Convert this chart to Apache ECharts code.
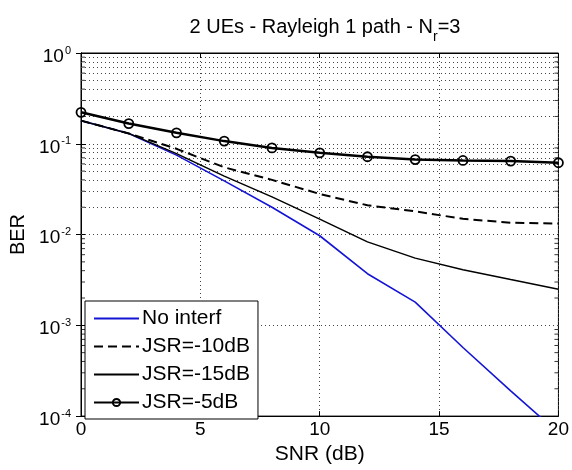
<!DOCTYPE html>
<html>
<head>
<meta charset="utf-8">
<script src="https://cdn.jsdelivr.net/npm/echarts@6/dist/echarts.min.js"></script>
<style>
  html, body { margin: 0; padding: 0; background: #fff; }
  #chart { width: 572px; height: 470px; }
</style>
</head>
<body>
<div id="chart"></div>
<script>
// BER vs SNR, 2 UEs, Rayleigh 1 path, Nr = 3
const snr = [0, 2, 4, 6, 8, 10, 12, 14, 16, 18, 20];
const noInterf = [0.18, 0.13, 0.075, 0.039, 0.020, 0.0097, 0.0037, 0.0018, 0.00057, 0.00019, 0.000065];
const jsrM10 = [0.18, 0.13, 0.088, 0.055, 0.040, 0.028, 0.021, 0.018, 0.0149, 0.0135, 0.0132];
const jsrM15 = [0.18, 0.13, 0.078, 0.044, 0.026, 0.0148, 0.0083, 0.0055, 0.0041, 0.0032, 0.0025];
const jsrM5 = [0.222, 0.167, 0.132, 0.107, 0.090, 0.0795, 0.072, 0.067, 0.0655, 0.0644, 0.0618];

const xTicks = [0, 5, 10, 15, 20];
const decades = [1e-4, 1e-3, 1e-2, 1e-1];
const minorFactors = [2, 3, 4, 5, 6, 7, 8, 9];

const legendNames = ['No interf', 'JSR=-10dB', 'JSR=-15dB', 'JSR=-5dB'];
// series drawn as plain lines get no marker in the legend
const plainLines = ['No interf', 'JSR=-10dB', 'JSR=-15dB'];

const FONT = '"Liberation Sans", Arial, Helvetica, sans-serif';
const X_MIN = xTicks[0], X_MAX = xTicks[xTicks.length - 1];

// minor decade values 2..9 x 10^k
const minorValues = [];
decades.forEach(d => minorFactors.forEach(f => minorValues.push(+(d * f).toPrecision(3))));

const pairs = arr => snr.map((x, i) => [x, arr[i]]);
const dotted = { type: [1, 3], color: '#444', width: 1 };

const chart = echarts.init(document.getElementById('chart'), null, { renderer: 'canvas' });

const option = {
  animation: false,
  backgroundColor: '#fff',
  title: {
    text: '{a|2 UEs - Rayleigh 1 path - N}{s|r}{a|=3}',
    left: 320,
    textAlign: 'center',
    top: 12,
    textStyle: {
      fontWeight: 'normal',
      rich: {
        a: { fontFamily: FONT, fontSize: 20, fontWeight: 'normal', color: '#000', lineHeight: 22, verticalAlign: 'top' },
        s: { fontFamily: FONT, fontSize: 14, fontWeight: 'normal', color: '#000', lineHeight: 14, padding: [13, 0, 0, 0], verticalAlign: 'top' }
      }
    }
  },
  grid: {
    left: 81, right: 11, top: 53, bottom: 52,
    show: true, borderColor: '#000', borderWidth: 1, backgroundColor: '#fff'
  },
  legend: {
    data: legendNames.map(n => plainLines.includes(n)
      ? { name: n, itemStyle: { opacity: 0 } }
      : { name: n }),
    orient: 'vertical',
    left: 85,
    top: 301,
    padding: [7, 8, 6, 8],
    itemGap: 7,
    itemWidth: 45,
    itemHeight: 9,
    backgroundColor: '#fff',
    borderColor: '#000',
    borderWidth: 1,
    borderRadius: 0,
    textStyle: { fontFamily: FONT, fontSize: 21, color: '#000', lineHeight: 20, padding: [0, 0, 0, -2] }
  },
  xAxis: [{
    type: 'value',
    min: X_MIN, max: X_MAX, interval: 5,
    name: 'SNR (dB)',
    nameLocation: 'middle',
    nameGap: 22,
    nameTextStyle: { fontFamily: FONT, fontSize: 21, color: '#000' },
    axisLine: { show: true, lineStyle: { color: '#000', width: 1 } },
    axisTick: { show: true, inside: true, length: 5, lineStyle: { color: '#000' } },
    axisLabel: { fontFamily: FONT, fontSize: 19, color: '#000', margin: 4 },
    splitLine: { show: true, lineStyle: dotted }
  }, {
    type: 'value',
    position: 'top',
    min: X_MIN, max: X_MAX, interval: 5,
    axisLine: { show: true, lineStyle: { color: '#000', width: 1 } },
    axisTick: { show: true, inside: true, length: 5, lineStyle: { color: '#000' } },
    axisLabel: { show: false },
    splitLine: { show: false }
  }],
  yAxis: [{
    type: 'log',
    logBase: 10,
    min: 1e-4, max: 1,
    name: 'BER',
    nameLocation: 'middle',
    nameGap: 42,
    nameTextStyle: { fontFamily: FONT, fontSize: 20, color: '#000' },
    axisLine: { show: true, lineStyle: { color: '#000', width: 1 } },
    axisTick: { show: true, inside: true, length: 5, lineStyle: { color: '#000' } },
    axisLabel: {
      margin: 10,
      formatter: v => '{b|10}{s|' + Math.round(Math.log10(v)) + '}',
      rich: {
        b: { fontFamily: FONT, fontSize: 19, color: '#000', lineHeight: 20, padding: [4, 0, 4, 0], verticalAlign: 'top' },
        s: { fontFamily: FONT, fontSize: 11, color: '#000', lineHeight: 11, padding: [2, 0, 0, 1], verticalAlign: 'top' }
      }
    },
    splitLine: { show: true, lineStyle: dotted }
  }, {
    type: 'log',
    logBase: 10,
    min: 1e-4, max: 1,
    position: 'right',
    axisLine: { show: true, lineStyle: { color: '#000', width: 1 } },
    axisTick: { show: true, inside: true, length: 5, lineStyle: { color: '#000' } },
    axisLabel: { show: false },
    splitLine: { show: false }
  }],
  series: [
    {
      // dotted minor grid at 2..9 within each decade
      name: 'minor grid',
      type: 'line',
      data: [],
      silent: true,
      z: 1,
      markLine: {
        silent: true,
        symbol: 'none',
        label: { show: false },
        lineStyle: dotted,
        data: minorValues.map(v => ({ yAxis: v }))
      }
    },
    {
      // minor ticks, left edge
      name: 'minor ticks L',
      type: 'scatter',
      silent: true,
      symbol: 'rect',
      symbolSize: [4, 1],
      symbolOffset: [2, 0],
      itemStyle: { color: '#000' },
      data: minorValues.map(v => [X_MIN, v]),
      z: 3
    },
    {
      // minor ticks, right edge
      name: 'minor ticks R',
      type: 'scatter',
      silent: true,
      symbol: 'rect',
      symbolSize: [4, 1],
      symbolOffset: [-2, 0],
      itemStyle: { color: '#000' },
      data: minorValues.map(v => [X_MAX, v]),
      z: 3
    },
    {
      name: 'No interf',
      type: 'line',
      data: pairs(noInterf),
      showSymbol: false,
      symbol: 'none',
      lineStyle: { color: '#1414d4', width: 1.6 },
      itemStyle: { color: '#1414d4' },
      z: 5
    },
    {
      name: 'JSR=-10dB',
      type: 'line',
      data: pairs(jsrM10),
      symbol: 'none',
      lineStyle: { color: '#000', width: 2, type: [9, 5] },
      itemStyle: { color: '#000' },
      z: 5
    },
    {
      name: 'JSR=-15dB',
      type: 'line',
      data: pairs(jsrM15),
      symbol: 'none',
      lineStyle: { color: '#000', width: 1.5 },
      itemStyle: { color: '#000' },
      z: 5
    },
    {
      name: 'JSR=-5dB',
      type: 'line',
      data: pairs(jsrM5),
      symbol: 'circle',
      symbolSize: 9,
      showAllSymbol: true,
      lineStyle: { color: '#000', width: 2.5 },
      itemStyle: { color: 'rgba(255,255,255,0)', borderColor: '#000', borderWidth: 1.8 },
      z: 6
    }
  ]
};

chart.setOption(option);
</script>
</body>
</html>
